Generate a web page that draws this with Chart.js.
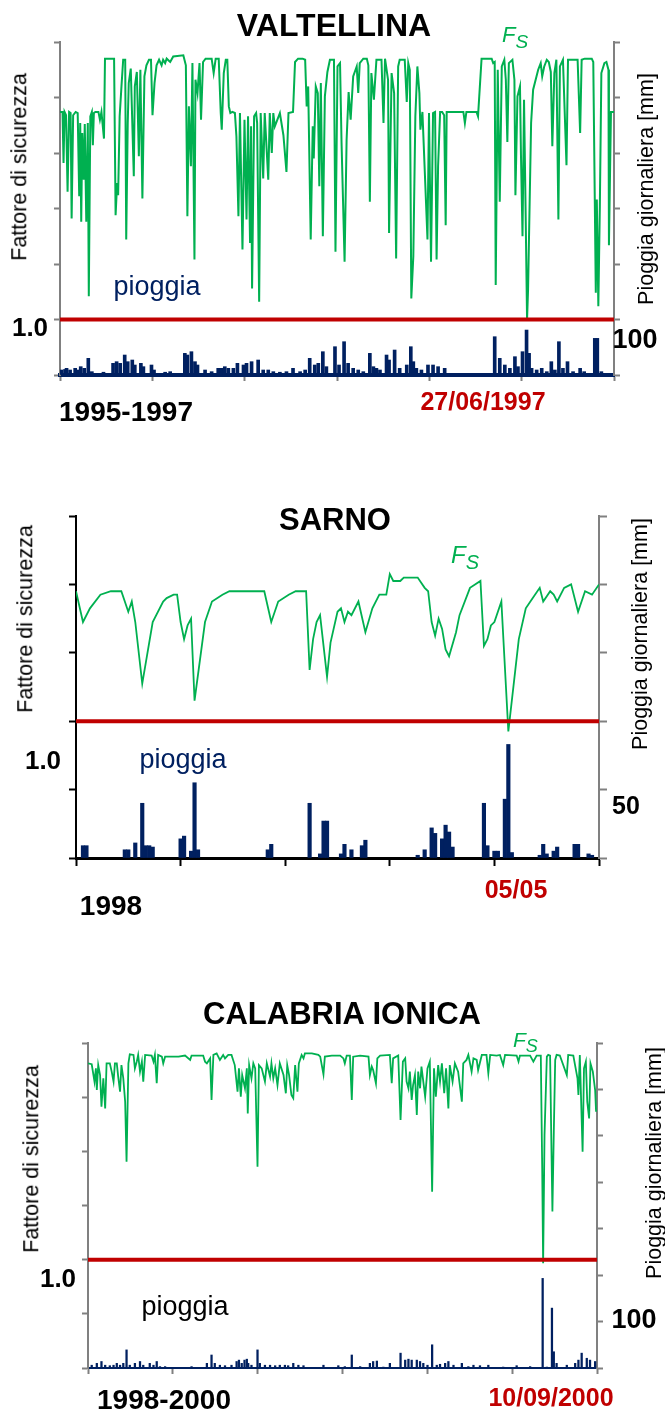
<!DOCTYPE html>
<html lang="it">
<head>
<meta charset="utf-8">
<title>Fattore di sicurezza e pioggia giornaliera</title>
<script src="https://cdn.jsdelivr.net/npm/chart.js@4.4.1/dist/chart.umd.min.js"></script>
<style>
  body { margin: 0; background: #fff; }
  #page { position: relative; width: 665px; height: 1413px; overflow: hidden;
          font-family: "Liberation Sans", Arial, sans-serif; }
  #page canvas { position: absolute; left: 0; }
  .txt { position: absolute; white-space: nowrap; line-height: 1; transform: translate(-50%, -50%); }
  .rot { transform: translate(-50%, -50%) rotate(-90deg); }
  .fs { position: absolute; white-space: nowrap; line-height: 1; font-style: italic; color: #00b050; }
  .fs span { position: relative; }
</style>
</head>
<body>
<div id="page">
  <canvas id="valtellina"></canvas>
  <canvas id="sarno"></canvas>
  <canvas id="calabria"></canvas>
</div>
<script>
// soglia di stabilita
const soglia = 1.0;

// ---- VALTELLINA 1995-1997 (giorni dall'inizio, FS) ----
const valtFs = [
  [0,2.87],[5,2.87],[7,2.41],[9,2.87],[12,2.84],[15,2.15],[18,2.87],[21,2.86],[23,1.91],[26,2.84],
  [31,2.87],[35,2.86],[38,2.11],[40,2.77],[42,1.88],[44,2.68],[47,2.26],[49,2.76],[52,1.88],[55,2.77],
  [57,1.21],[60,2.83],[63,2.87],[65,2.57],[67,2.86],[70,2.87],[76,2.87],[79,2.80],[82,2.87],[87,2.63],
  [89,3.35],[107,3.35],[110,1.94],[113,2.23],[115,2.12],[118,2.83],[122,3.13],[125,3.34],[129,3.34],[131,1.72],
  [134,2.77],[136,3.13],[140,3.26],[146,2.29],[148,3.10],[152,3.23],[156,2.47],[159,3.25],[163,2.09],[167,3.19],
  [171,3.29],[176,3.34],[180,3.34],[183,2.84],[187,3.13],[191,3.29],[196,3.34],[201,3.29],[204,3.34],[208,3.31],
  [211,3.35],[218,3.32],[224,3.37],[244,3.38],[249,3.29],[252,1.93],[255,2.92],[259,2.38],[262,3.31],[266,1.54],
  [268,3.16],[272,3.04],[276,3.31],[279,2.80],[283,3.32],[288,3.35],[300,3.35],[304,3.22],[308,3.35],[314,3.35],
  [318,2.86],[320,2.71],[324,3.22],[328,3.34],[331,3.34],[334,2.92],[337,2.86],[341,2.87],[346,2.86],[349,2.65],
  [353,1.93],[356,2.86],[361,1.63],[365,2.80],[369,1.90],[372,2.83],[376,1.69],[378,2.74],[380,1.28],[384,2.83],
  [388,2.86],[390,2.77],[394,1.16],[397,2.86],[402,2.27],[405,2.86],[412,2.26],[415,2.86],[419,2.50],[422,2.86],
  [425,2.74],[435,2.86],[442,2.66],[448,2.33],[452,2.86],[461,2.87],[465,3.32],[471,3.35],[480,3.35],[485,3.34],
  [488,2.92],[491,3.10],[496,1.72],[500,2.74],[502,2.45],[506,3.10],[510,3.04],[513,2.20],[516,3.13],[520,1.75],
  [524,3.01],[529,3.23],[534,3.34],[542,3.34],[545,1.61],[549,3.28],[554,3.31],[557,2.59],[563,1.52],[567,2.62],
  [571,3.05],[575,2.80],[580,3.19],[587,3.28],[590,3.04],[593,3.31],[600,3.35],[607,3.35],[610,3.29],[613,2.06],
  [616,3.22],[621,2.98],[626,3.34],[636,3.34],[640,2.77],[643,3.35],[649,3.16],[651,1.78],[656,3.22],[661,3.04],
  [665,1.55],[669,3.28],[672,3.34],[682,3.34],[686,2.96],[689,3.31],[692,3.25],[695,1.19],[699,1.57],[703,2.83],
  [707,3.28],[711,3.04],[713,2.71],[717,2.87],[727,1.72],[730,2.86],[734,1.52],[738,2.86],[742,2.87],[745,1.54],
  [748,2.38],[752,2.87],[756,2.87],[760,2.84],[763,1.85],[765,2.87],[798,2.87],[801,2.77],[804,2.87],[824,2.87],
  [827,2.83],[834,3.35],[854,3.35],[857,3.31],[860,3.32],[862,1.31],[866,3.25],[870,2.06],[874,3.28],[879,3.34],
  [882,3.16],[885,2.60],[888,3.31],[895,3.34],[899,3.16],[901,2.12],[905,3.01],[910,3.10],[912,2.47],[915,1.75],
  [918,2.98],[921,2.02],[924,1.00],[926,1.27],[932,2.77],[936,3.07],[941,3.16],[946,3.25],[951,3.31],[954,3.19],
  [958,3.28],[963,3.34],[967,3.32],[971,3.23],[974,2.56],[978,3.22],[982,3.34],[986,1.90],[989,3.28],[995,3.34],
  [1002,2.39],[1005,3.34],[1015,3.34],[1024,3.34],[1029,2.68],[1032,3.34],[1038,3.35],[1052,3.35],[1055,3.32],[1060,1.24],
  [1062,2.08],[1065,1.12],[1068,2.02],[1071,3.22],[1077,3.31],[1081,3.32],[1085,3.25],[1086,1.67],[1090,2.87],[1096,2.87]
];
// pioggia giornaliera [mm]
const valtRain = [
  [3,9],[10,10],[13,12],[20,9],[30,12],[36,9],[41,15],[48,12],[56,30],[63,6],[86,5],[105,21],[112,24],[119,21],
  [128,36],[134,24],[143,27],[148,18],[160,21],[165,15],[181,18],[186,9],[208,5],[218,6],[247,39],[252,36],[260,42],
  [267,24],[272,18],[287,9],[300,6],[313,12],[320,12],[326,15],[333,12],[343,12],[351,21],[363,18],[369,21],[379,24],
  [392,27],[402,9],[412,9],[422,6],[435,5],[448,6],[461,12],[475,6],[485,9],[494,30],[504,18],[511,21],[520,42],
  [527,15],[544,51],[552,18],[562,60],[570,21],[580,12],[590,9],[600,6],[613,39],[620,15],[626,12],[633,9],[646,36],
  [651,27],[662,45],[672,12],[686,18],[694,51],[699,24],[705,12],[715,9],[728,18],[738,18],[748,15],[761,12],[860,69],
  [870,30],[880,18],[890,12],[900,33],[906,15],[915,42],[923,81],[928,39],[933,12],[943,9],[953,12],[963,6],[972,24],
  [979,9],[987,60],[995,12],[1004,24],[1015,6],[1029,12],[1037,6],[1058,66],[1063,66],[1071,6]
];
const valtDayTicks = [0, 183, 365, 548, 731, 913, 1096];
const valtFsTicks = [0.5, 1.0, 1.5, 2.0, 2.5, 3.0, 3.5];
const valtRainTicks = [0, 100, 200, 300, 400, 500, 600];

// ---- SARNO 1998 ----
const sarnoFs = [
  [0,1.38],[2,1.29],[4,1.33],[7,1.37],[10,1.38],[13,1.38],[15,1.32],[16,1.35],[17,1.29],[19,1.11],
  [22,1.29],[25,1.35],[26,1.36],[28,1.37],[29,1.37],[30,1.29],[31,1.24],[32,1.28],[33,1.30],[34,1.06],
  [37,1.29],[39,1.35],[42,1.37],[44,1.38],[54,1.38],[56,1.29],[58,1.35],[61,1.37],[63,1.38],[66,1.38],
  [67,1.15],[68,1.24],[69,1.29],[70,1.31],[72,1.13],[73,1.23],[75,1.32],[76,1.33],[77,1.29],[78,1.32],
  [79,1.31],[81,1.35],[83,1.26],[85,1.33],[87,1.37],[89,1.37],[90,1.43],[91,1.41],[93,1.41],[94,1.42],
  [98,1.42],[100,1.39],[101,1.38],[102,1.29],[103,1.25],[104,1.30],[105,1.27],[106,1.21],[107,1.19],[109,1.26],
  [110,1.31],[113,1.39],[116,1.41],[117,1.22],[118,1.24],[119,1.28],[120,1.29],[122,1.35],[124,0.97],[126,1.15],
  [127,1.24],[129,1.33],[131,1.36],[133,1.39],[134,1.35],[136,1.38],[137,1.37],[138,1.35],[140,1.39],[142,1.40],
  [144,1.32],[146,1.38],[148,1.37],[150,1.40]
];
const sarnoRain = [
  [2,9],[3,9],[14,6],[15,6],[17,11],[19,40],[20,9],[21,9],[22,8],[30,14],[31,16],[33,5],[34,55],[35,6],
  [55,6],[56,10],[67,40],[70,3],[71,27],[72,27],[76,3],[77,10],[79,6],[82,9],[83,13],
  [98,2],[100,6],[102,22],[103,18],[105,14],[106,24],[107,19],[108,8],
  [117,40],[118,9],[120,5],[121,5],[123,43],[124,83],[125,4],
  [133,2],[134,10],[135,3],[137,5],[138,8],[143,10],[144,10],[147,3],[148,2]
];
const sarnoDayTicks = [0, 30, 60, 90, 120, 150];
const sarnoFsTicks = [0.6, 0.8, 1.0, 1.2, 1.4, 1.6];
const sarnoRainTicks = [0, 50, 100, 150, 200, 250];

// ---- CALABRIA IONICA 1998-2000 ----
const calFs = [
  [0,1.906],[2,1.906],[8,1.902],[14,1.822],[17,1.883],[19,1.783],[22,1.898],[26,1.852],[29,1.706],[33,1.837],
  [37,1.698],[40,1.906],[47,1.906],[51,1.868],[55,1.822],[58,1.906],[62,1.906],[65,1.845],[69,1.775],[72,1.898],
  [76,1.837],[80,1.729],[83,1.452],[87,1.906],[90,1.948],[98,1.945],[101,1.883],[105,1.914],[108,1.945],[112,1.868],
  [116,1.914],[119,1.822],[123,1.945],[137,1.942],[141,1.914],[144,1.945],[148,1.814],[151,1.945],[159,1.937],[162,1.906],
  [166,1.937],[195,1.937],[209,1.942],[220,1.922],[223,1.942],[248,1.942],[252,1.914],[256,1.906],[263,1.929],[266,1.737],
  [270,1.945],[277,1.952],[284,1.922],[291,1.945],[295,1.929],[302,1.945],[309,1.945],[316,1.898],[322,1.775],[325,1.883],
  [329,1.752],[332,1.852],[338,1.791],[342,1.883],[344,1.675],[347,1.898],[352,1.837],[356,1.906],[360,1.883],[365,1.429],
  [368,1.898],[374,1.883],[381,1.822],[385,1.906],[392,1.845],[395,1.906],[399,1.837],[403,1.883],[408,1.806],[413,1.906],
  [421,1.852],[426,1.768],[429,1.898],[433,1.852],[438,1.760],[442,1.745],[446,1.898],[451,1.775],[454,1.906],[460,1.945],
  [464,1.929],[467,1.952],[482,1.952],[496,1.945],[500,1.937],[507,1.855],[510,1.937],[525,1.942],[543,1.942],[550,1.929],
  [553,1.906],[557,1.942],[564,1.942],[568,1.737],[571,1.937],[586,1.942],[604,1.937],[607,1.852],[611,1.891],[614,1.875],
  [620,1.814],[623,1.929],[629,1.942],[650,1.945],[654,1.814],[657,1.929],[668,1.942],[673,1.645],[678,1.914],[683,1.929],
  [686,1.822],[690,1.791],[693,1.868],[697,1.737],[700,1.806],[704,1.852],[708,1.668],[711,1.868],[715,1.791],[718,1.891],
  [726,1.752],[731,1.883],[736,1.914],[741,1.314],[745,1.883],[749,1.752],[754,1.898],[758,1.822],[762,1.906],[767,1.768],
  [771,1.883],[776,1.698],[779,1.898],[785,1.822],[790,1.906],[797,1.868],[805,1.729],[808,1.906],[815,1.922],[819,1.945],
  [826,1.868],[830,1.929],[837,1.922],[840,1.875],[848,1.945],[858,1.945],[862,1.860],[866,1.945],[880,1.942],[887,1.945],
  [894,1.898],[898,1.945],[923,1.942],[927,1.914],[930,1.942],[952,1.942],[959,1.914],[966,1.942],[975,1.942],[978,1.422],
  [980,0.983],[983,1.575],[988,1.937],[991,1.945],[995,1.942],[998,1.498],[1000,1.222],[1003,1.591],[1006,1.922],[1009,1.945],
  [1016,1.942],[1031,1.852],[1034,1.945],[1045,1.942],[1054,1.837],[1056,1.760],[1059,1.945],[1065,1.498],[1068,1.883],[1072,1.914],
  [1075,1.729],[1079,1.652],[1082,1.906],[1087,1.868],[1092,1.783],[1094,1.683]
];
const calRain = [
  [8,6],[19,10],[29,14],[37,6],[47,5],[55,6],[62,10],[69,6],[76,10],[83,39],[90,6],[101,10],[112,14],[119,6],
  [133,10],[141,6],[148,14],[155,3],[166,3],[223,3],[256,10],[266,28],[273,10],[284,6],[295,5],[309,6],[320,14],
  [325,17],[331,10],[337,17],[342,19],[345,10],[352,6],[365,39],[370,10],[381,6],[392,6],[403,5],[413,6],[424,6],
  [431,5],[442,10],[453,6],[464,5],[507,6],[539,5],[553,3],[568,28],[586,3],[607,10],[614,14],[622,15],[636,2],
  [650,10],[673,32],[683,17],[690,19],[697,17],[708,17],[715,14],[722,10],[731,6],[741,50],[751,6],[758,8],[769,10],
  [776,14],[787,6],[805,10],[819,3],[830,6],[844,5],[862,6],[894,2],[923,5],[952,3],[979,193],[988,2],[999,129],
  [1003,35],[1009,10],[1031,6],[1049,10],[1056,17],[1063,32],[1074,21],[1081,17],[1092,14]
];
const calDayTicks = [0, 183, 365, 548, 731, 913, 1096];
const calFsTicks = [0.5, 0.75, 1.0, 1.25, 1.5, 1.75, 2.0];
const calRainTicks = [0, 100, 200, 300, 400, 500, 600, 700];

const GREEN = '#00b050', NAVY = '#002060', RED = '#c00000', GREY = '#808080', BLACK = '#000000';

function toXY(pairs) {
  return pairs.map(p => ({ x: p[0], y: p[1] }));
}

function setTicks(list) {
  return scale => { scale.ticks = list.map(v => ({ value: v })); };
}

function axis(pos, list, tickLen, tickColor, tickW, borderColor, borderW) {
  return {
    type: 'linear',
    position: pos,
    offset: false,
    min: list[0],
    max: list[list.length - 1],
    afterBuildTicks: setTicks(list),
    ticks: { display: false },
    grid: { offset: false, drawOnChartArea: false, drawTicks: true, tickLength: tickLen, tickColor: tickColor, tickWidth: tickW },
    border: { display: true, color: borderColor, width: borderW }
  };
}

function makePanel(id, p) {
  const canvas = document.getElementById(id);
  canvas.width = 665;
  canvas.height = p.height;
  canvas.style.top = p.top + 'px';

  return new Chart(canvas, {
    type: 'line',
    data: {
      datasets: [
        {
          type: 'line', data: [{ x: p.days[0], y: soglia }, { x: p.days[p.days.length - 1], y: soglia }],
          xAxisID: 'x', yAxisID: 'yFs', borderColor: RED, borderWidth: 4, pointRadius: 0, order: 0
        },
        {
          type: 'line', data: toXY(p.fs), xAxisID: 'x', yAxisID: 'yFs',
          borderColor: GREEN, borderWidth: p.fsWidth, pointRadius: 0, tension: 0, order: 1
        },
        {
          type: 'bar', data: toXY(p.rain), xAxisID: 'x', yAxisID: 'yRain',
          backgroundColor: NAVY, borderWidth: 0, barThickness: p.barW, order: 2
        }
      ]
    },
    options: {
      responsive: false,
      animation: false,
      devicePixelRatio: 1,
      events: [],
      layout: { autoPadding: false, padding: p.padding },
      plugins: { legend: { display: false }, tooltip: { enabled: false } },
      scales: {
        x: axis('bottom', p.days, p.xTick, p.xTickColor, p.xTickW, p.xBorder, p.xBorderW),
        yFs: axis('left', p.fsTicks, p.lTick, p.lColor, p.lW, p.lColor, p.lW),
        yRain: axis('right', p.rainTicks, p.rTick, GREY, 2, GREY, 2)
      }
    }
  });
}

makePanel('valtellina', {
  top: 0, height: 420, days: valtDayTicks, fs: valtFs, rain: valtRain,
  fsTicks: valtFsTicks, rainTicks: valtRainTicks, fsWidth: 2, barW: 3,
  padding: { left: 54, right: 45, top: 42, bottom: 39 },
  xTick: 6, xTickColor: GREY, xTickW: 2, xBorder: NAVY, xBorderW: 4,
  lTick: 6, lColor: GREY, lW: 2, rTick: 6
});

makePanel('sarno', {
  top: 480, height: 450, days: sarnoDayTicks, fs: sarnoFs, rain: sarnoRain,
  fsTicks: sarnoFsTicks, rainTicks: sarnoRainTicks, fsWidth: 1.8, barW: 3.5,
  padding: { left: 69, right: 58, top: 36, bottom: 64 },
  xTick: 8, xTickColor: BLACK, xTickW: 2, xBorder: BLACK, xBorderW: 3,
  lTick: 7, lColor: BLACK, lW: 2, rTick: 8
});

makePanel('calabria', {
  top: 990, height: 423, days: calDayTicks, fs: calFs, rain: calRain,
  fsTicks: calFsTicks, rainTicks: calRainTicks, fsWidth: 1.8, barW: 1.6,
  padding: { left: 82, right: 62, top: 53, bottom: 39 },
  xTick: 6, xTickColor: GREY, xTickW: 2, xBorder: NAVY, xBorderW: 2,
  lTick: 6, lColor: GREY, lW: 2, rTick: 6
});

// ---- testi ----
const page = document.getElementById('page');

function put(text, cx, cy, size, opts) {
  const d = document.createElement('div');
  d.className = 'txt' + (opts.rot ? ' rot' : '');
  d.textContent = text;
  d.style.left = cx + 'px';
  d.style.top = cy + 'px';
  d.style.fontSize = size + 'px';
  d.style.fontWeight = opts.bold ? 'bold' : 'normal';
  d.style.color = opts.color || '#000';
  page.appendChild(d);
}

function putFs(left, baseline, size) {
  const d = document.createElement('div');
  d.className = 'fs';
  d.style.left = left + 'px';
  d.style.top = (baseline - 0.85 * size) + 'px';
  d.style.fontSize = size + 'px';
  d.innerHTML = 'F<span style="font-size:' + Math.round(size * 0.85) + 'px;top:' + Math.round(size * 0.25) + 'px">S</span>';
  page.appendChild(d);
}

const B = { bold: true };
// Valtellina
put('VALTELLINA', 334, 25, 32, B);
putFs(502, 43, 22);
put('pioggia', 157, 286, 27, { color: NAVY });
put('1.0', 30, 327, 26, B);
put('100', 635, 339, 27, B);
put('1995-1997', 126, 412, 28, B);
put('27/06/1997', 483, 401, 25, { bold: true, color: RED });
put('Fattore di sicurezza', 20, 167, 21.5, { rot: true });
put('Pioggia giornaliera [mm]', 647, 189, 21.5, { rot: true });

// Sarno
put('SARNO', 335, 519, 31, B);
putFs(451, 563, 24);
put('pioggia', 183, 759, 27, { color: NAVY });
put('1.0', 43, 760, 26, B);
put('50', 626, 805, 25, B);
put('1998', 111, 906, 28, B);
put('05/05', 516, 889, 25, { bold: true, color: RED });
put('Fattore di sicurezza', 26, 619, 21.5, { rot: true });
put('Pioggia giornaliera [mm]', 641, 634, 21.5, { rot: true });

// Calabria ionica
put('CALABRIA IONICA', 342, 1013, 31, B);
putFs(513, 1047, 21);
put('pioggia', 185, 1306, 27, {});
put('1.0', 58, 1278, 26, B);
put('100', 634, 1319, 27, B);
put('1998-2000', 164, 1400, 28, B);
put('10/09/2000', 551, 1397, 25, { bold: true, color: RED });
put('Fattore di sicurezza', 32, 1159, 21.5, { rot: true });
put('Pioggia giornaliera [mm]', 655, 1163, 21.5, { rot: true });
</script>
</body>
</html>
